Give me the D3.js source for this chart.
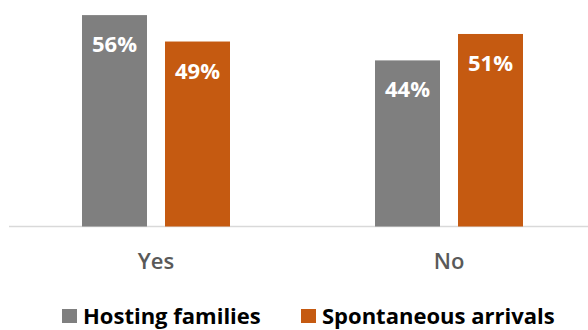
<!DOCTYPE html>
<html>
<head>
<meta charset="utf-8">
<script src="https://d3js.org/d3.v7.min.js"></script>
<style>
  body { margin: 0; background: #fff; }
  text { font-family: "Open Sans", sans-serif; }
</style>
</head>
<body>
<div id="chart"></div>
<script>
// data
var categories = ["Yes", "No"];
var seriesNames = ["Hosting families", "Spontaneous arrivals"];
var hosting = [56, 44];
var spontaneous = [49, 51];
var colors = ["#7f7f7f", "#c55a11"];

var width = 588, height = 330;
var baseY = 226.5;

var svg = d3.select("#chart").append("svg")
    .attr("width", width)
    .attr("height", height);

var x = d3.scaleBand().domain(categories).range([9.5, 595.5]);
var xInner = d3.scaleBand().domain(seriesNames).range([0, 148]).paddingInner(0.217);
var y = d3.scaleLinear().domain([0, 60]).range([baseY, 0]);

var rows = categories.map(function(c, i) {
  return { cat: c, vals: [hosting[i], spontaneous[i]] };
});

// axis line
svg.append("line")
  .attr("x1", 9).attr("x2", width)
  .attr("y1", baseY).attr("y2", baseY)
  .attr("stroke", "#d9d9d9").attr("stroke-width", 1.5);

var groups = svg.selectAll("g.grp")
  .data(rows).enter().append("g")
  .attr("transform", function(d) {
    return "translate(" + (x(d.cat) + x.bandwidth() / 2 - 74) + ",0)";
  });

groups.selectAll("rect")
  .data(function(d) { return d.vals.map(function(v, j) { return { s: seriesNames[j], v: v, j: j }; }); })
  .enter().append("rect")
    .attr("x", function(d) { return xInner(d.s); })
    .attr("width", xInner.bandwidth())
    .attr("y", function(d) { return y(d.v); })
    .attr("height", function(d) { return baseY - y(d.v); })
    .attr("fill", function(d) { return colors[d.j]; });

groups.selectAll("text.val")
  .data(function(d) { return d.vals.map(function(v, j) { return { s: seriesNames[j], v: v }; }); })
  .enter().append("text")
    .attr("class", "val")
    .attr("x", function(d) { return xInner(d.s) + xInner.bandwidth() / 2; })
    .attr("y", function(d) { return y(d.v) + 37; })
    .attr("text-anchor", "middle")
    .attr("fill", "#fff")
    .style("font-size", "22px")
    .style("font-weight", "700")
    .text(function(d) { return d.v + "%"; });

// category labels
svg.selectAll("text.cat")
  .data(categories).enter().append("text")
    .attr("x", function(d) { return x(d) + x.bandwidth() / 2; })
    .attr("y", 269)
    .attr("text-anchor", "middle")
    .attr("fill", "#595959")
    .style("font-size", "22px")
    .style("font-weight", "600")
    .text(function(d) { return d; });

// legend
var legendX = [62, 301];
var legend = svg.selectAll("g.leg")
  .data(seriesNames).enter().append("g")
  .attr("transform", function(d, i) { return "translate(" + legendX[i] + ",309)"; });

legend.append("rect")
  .attr("width", 15).attr("height", 14)
  .attr("fill", function(d, i) { return colors[i]; });

legend.append("text")
  .attr("x", 21).attr("y", 15)
  .attr("fill", "#000")
  .style("font-size", "22px")
  .style("font-weight", "700")
  .text(function(d) { return d; });
</script>
</body>
</html>
